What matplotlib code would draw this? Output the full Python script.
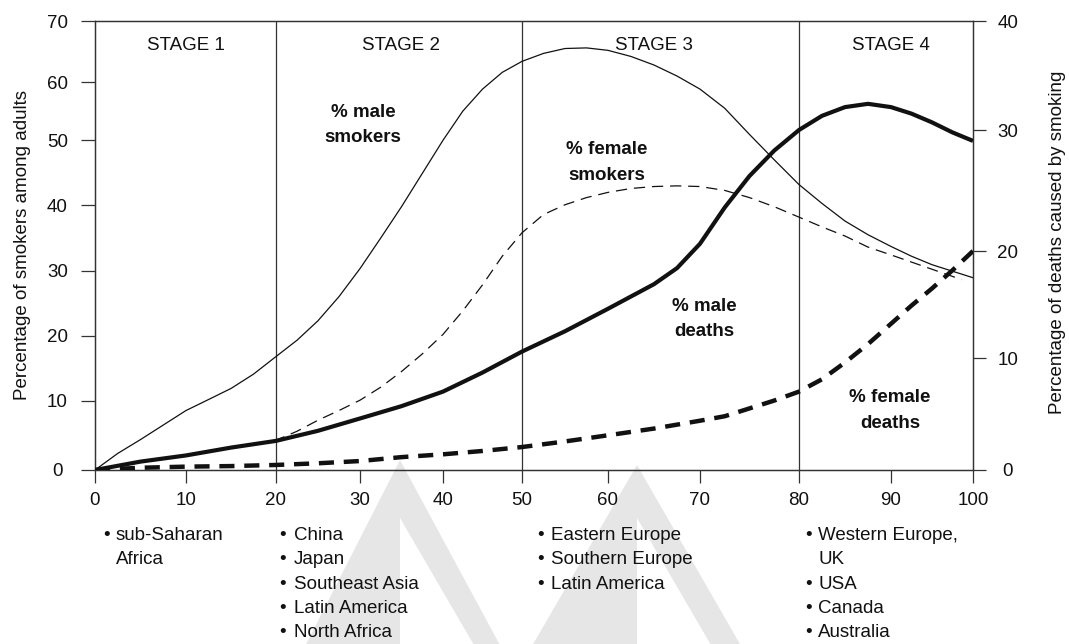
import numpy as np
import matplotlib
matplotlib.use("Agg")
import matplotlib.pyplot as plt
from matplotlib.patches import Polygon

plt.rcParams['font.family'] = ['Liberation Sans', 'DejaVu Sans']

# ---------------- data ----------------
male_smokers_x = [0, 2.5, 5, 7.5, 10, 12.5, 15, 17.5, 20, 22.5, 25, 27.5, 30, 32.5, 35, 37.5, 40, 42.5,
                  45, 47.5, 50, 52.5, 55, 57.5, 60, 62.5, 65, 67.5, 70, 72.5, 75, 77.5, 80, 82.5, 85,
                  87.5, 90, 92.5, 95, 97.5, 100]
male_smokers_y = [0, 2.4, 4.4, 6.5, 8.6, 10.2, 11.9, 14.1, 16.8, 19.3, 22.3, 26.0, 30.3, 35.0, 39.8, 44.9,
                  50.0, 55.0, 58.8, 61.6, 63.4, 64.7, 65.5, 65.6, 65.2, 64.2, 62.8, 61.0, 58.8, 55.5,
                  51.0, 47.0, 43.2, 40.3, 37.6, 35.5, 33.7, 32.2, 30.9, 29.9, 28.9]

female_smokers_x = [0, 5, 10, 15, 20, 22.5, 25, 27.5, 30, 32.5, 35, 37.5, 40, 42.5, 45, 47.5, 50, 52.5,
                    55, 57.5, 60, 62.5, 65, 67.5, 70, 72.5, 75, 77.5, 80, 82.5, 85, 87.5, 90, 92.5,
                    95, 97.5, 98.6]
female_smokers_y = [0, 1.1, 2.2, 3.2, 4.3, 5.6, 7.2, 8.6, 10.1, 12.1, 14.5, 17.2, 20.2, 23.8, 27.8, 32.2,
                    35.8, 38.6, 40.1, 41.2, 42.0, 42.6, 42.9, 43.0, 42.9, 42.3, 41.2, 39.8, 38.2, 36.7,
                    35.3, 33.6, 32.4, 31.3, 30.2, 29.1, 28.6]

male_deaths_x = [0, 5, 10, 15, 20, 25, 30, 35, 40, 45, 50, 55, 60, 65, 67.5, 70, 72.5, 75, 77.5, 80,
                 82.5, 85, 87.5, 90, 92.5, 95, 97.5, 100]
male_deaths_y = [0, 0.75, 1.3, 2.0, 2.6, 3.5, 4.6, 5.7, 7.0, 8.7, 10.6, 12.5, 14.6, 16.9, 18.4, 20.6,
                 23.6, 26.2, 28.3, 30.0, 31.3, 32.1, 32.4, 32.1, 31.5, 30.7, 29.8, 29.1]

female_deaths_x = [0, 5, 10, 15, 20, 25, 30, 35, 40, 45, 50, 55, 60, 65, 70, 72.5, 75, 77.5, 80, 82.5,
                   85, 87.5, 90, 92.5, 95, 97.5, 100]
female_deaths_y = [0, 0.2, 0.3, 0.35, 0.45, 0.6, 0.8, 1.15, 1.4, 1.7, 2.05, 2.55, 3.1, 3.7, 4.4, 4.8,
                   5.5, 6.2, 7.0, 8.1, 9.6, 11.3, 13.2, 14.9, 16.5, 18.2, 20.0]

stage_bounds = [20, 50, 80]
stage_names = ['STAGE 1', 'STAGE 2', 'STAGE 3', 'STAGE 4']
stage_centers = [10, 35, 65, 90]

x_ticks = [0, 10, 20, 30, 40, 50, 60, 70, 80, 90, 100]
left_ticks = [0, 10, 20, 30, 40, 50, 60, 70]
right_ticks = [0, 10, 20, 30, 40]

curve_labels = [('% male', 'smokers'), ('% female', 'smokers'),
                ('% male', 'deaths'), ('% female', 'deaths')]

region_lists = [
    [('•', 'sub-Saharan'), ('', 'Africa')],
    [('•', 'China'), ('•', 'Japan'), ('•', 'Southeast Asia'), ('•', 'Latin America'), ('•', 'North Africa')],
    [('•', 'Eastern Europe'), ('•', 'Southern Europe'), ('•', 'Latin America')],
    [('•', 'Western Europe,'), ('', 'UK'), ('•', 'USA'), ('•', 'Canada'), ('•', 'Australia')],
]

left_label = 'Percentage of smokers among adults'
right_label = 'Percentage of deaths caused by smoking'

# -------- calibration of the (hand drawn, slightly uneven) printed scales --------
x_scale_pos = [0, 91, 181, 265, 348, 427, 513, 605, 704, 796, 878]
left_scale_pos = [0, 69, 134, 199, 264, 329, 387, 448]
right_scale_pos = [0, 112, 219, 340, 449]


def piecewise(vals, pos):
    vals = np.asarray(vals, float)
    pos = np.asarray(pos, float)

    def f(a, xs, ys):
        a = np.asarray(a, float)
        out = np.interp(a, xs, ys)
        out = np.where(a < xs[0], ys[0] + (a - xs[0]) * (ys[1] - ys[0]) / (xs[1] - xs[0]), out)
        out = np.where(a > xs[-1], ys[-1] + (a - xs[-1]) * (ys[-1] - ys[-2]) / (xs[-1] - xs[-2]), out)
        return out

    return (lambda a: f(a, vals, pos)), (lambda a: f(a, pos, vals))


W, H = 1069, 644
fig = plt.figure(figsize=(W / 100, H / 100), dpi=100)
fig.patch.set_facecolor('white')


def fx(px):
    return px / W


def fy(py):
    return 1 - py / H


# faint watermark shapes behind the chart
gray = '#e6e6e6'
for apex, lslope, rslope, inner_top, inner_slope in [((400, 460), 0.51, 0.54, 518, 0.58),
                                                      ((637, 465), 0.58, 0.575, 518, 0.58)]:
    ax0, ay0 = apex
    yb = 700
    outer = [(fx(ax0), fy(ay0)), (fx(ax0 - lslope * (yb - ay0)), fy(yb)), (fx(ax0 + rslope * (yb - ay0)), fy(yb))]
    inner = [(fx(ax0), fy(inner_top)), (fx(ax0), fy(yb)), (fx(ax0 + inner_slope * (yb - inner_top)), fy(yb))]
    fig.patches.append(Polygon(outer, closed=True, transform=fig.transFigure, facecolor=gray,
                               edgecolor='none', zorder=-3))
    fig.patches.append(Polygon(inner, closed=True, transform=fig.transFigure, facecolor='white',
                               edgecolor='none', zorder=-2))

ax = fig.add_axes([fx(95), fy(470), (973 - 95) / W, (470 - 21) / H])
ax.patch.set_visible(False)

xf, xi = piecewise(x_ticks, x_scale_pos)
ax.set_xscale('function', functions=(xf, xi))
lf, li = piecewise(left_ticks, left_scale_pos)
ax.set_yscale('function', functions=(lf, li))
ax.set_xlim(0, 100)
ax.set_ylim(0, 70)

ax2 = ax.twinx()
ax2.patch.set_visible(False)
rf, ri = piecewise(right_ticks, right_scale_pos)
ax2.set_yscale('function', functions=(rf, ri))
ax2.set_ylim(0, 40)

ink = '#111111'
spine_c = '#333333'

# stage separators
for b in stage_bounds:
    ax.axvline(b, color=spine_c, lw=0.9, zorder=1)

ax.plot(male_smokers_x, male_smokers_y, color=ink, lw=0.9, zorder=3)
ax.plot(female_smokers_x, female_smokers_y, color=ink, lw=0.9, dashes=(9, 5.5), zorder=3)
ax2.plot(male_deaths_x, male_deaths_y, color=ink, lw=3.0, zorder=3, solid_capstyle='butt')
ax2.plot(female_deaths_x, female_deaths_y, color=ink, lw=3.2, dashes=(3.4, 2.2),
         dash_capstyle='butt', zorder=3)

for a in (ax, ax2):
    for s in a.spines.values():
        s.set_color(spine_c)
        s.set_linewidth(0.9)

ax.set_xticks(x_ticks)
ax.set_xticklabels([str(t) for t in x_ticks])
ax.set_yticks(left_ticks)
ax.set_yticklabels([str(t) for t in left_ticks])
ax2.set_yticks(right_ticks)
ax2.set_yticklabels([str(t) for t in right_ticks])
ax.minorticks_off()
ax2.minorticks_off()

ax.tick_params(axis='x', direction='out', length=9, width=0.9, color=spine_c,
               labelsize=13.5, labelcolor=ink, pad=7)
ax.tick_params(axis='y', direction='out', length=10, width=0.9, color=spine_c,
               labelsize=13.5, labelcolor=ink, pad=17)
ax2.tick_params(axis='y', direction='out', length=9, width=0.9, color=spine_c,
                labelsize=13.5, labelcolor=ink, pad=16)
for lab in ax.get_yticklabels():
    lab.set_horizontalalignment('center')
for lab in ax2.get_yticklabels():
    lab.set_horizontalalignment('center')

fs = 13.5
# stage names
for name, c in zip(stage_names, stage_centers):
    ax.text(c, (470 - 49.5) / 449, name, transform=ax.get_xaxis_transform(),
            ha='center', va='baseline', fontsize=fs, color=ink)

# curve labels (pixel layout: centre x, first baseline)
curve_label_pos = [(363, 117), (607, 154), (704, 311), (890, 402)]
for (l1, l2), (cx, by) in zip(curve_labels, curve_label_pos):
    fig.text(fx(cx), fy(by), l1, ha='center', va='baseline', fontsize=fs,
             fontweight='bold', color=ink)
    fig.text(fx(cx), fy(by + 25.5), l2, ha='center', va='baseline', fontsize=fs,
             fontweight='bold', color=ink)

# region lists below axis
list_pos = [(107, 116), (283, 294), (541, 551), (809, 818)]
for items, (bx, tx) in zip(region_lists, list_pos):
    for i, (bullet, txt) in enumerate(items):
        by = 540 + 24.3 * i
        if bullet:
            fig.text(fx(bx), fy(by), bullet, ha='center', va='baseline', fontsize=fs, color=ink)
        fig.text(fx(tx), fy(by), txt, ha='left', va='baseline', fontsize=fs, color=ink)

fig.text(fx(23), fy(245), left_label, rotation=90, ha='center', va='center', fontsize=fs, color=ink)
fig.text(fx(1058), fy(242), right_label, rotation=90, ha='center', va='center', fontsize=fs, color=ink)

fig.savefig('out.png', dpi=100, facecolor='white')
